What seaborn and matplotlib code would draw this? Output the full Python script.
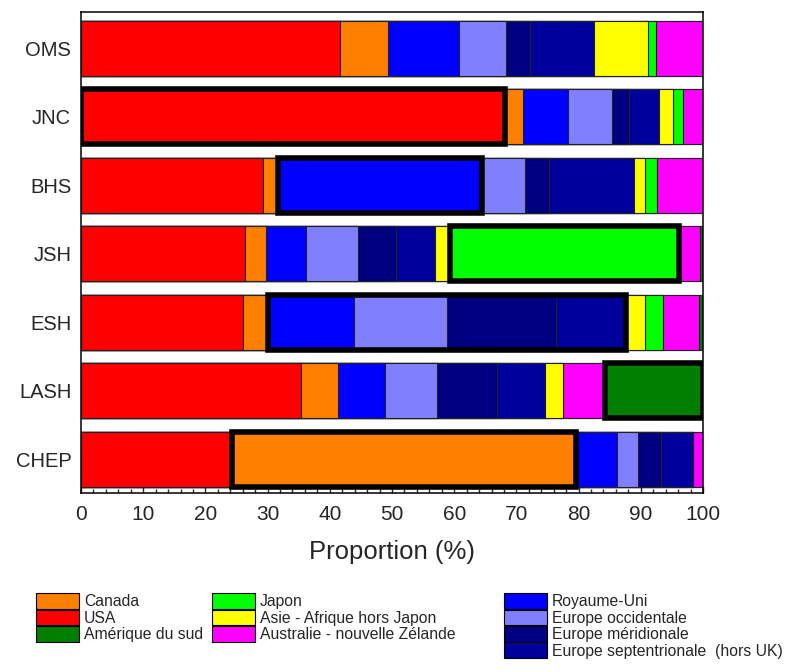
import numpy as np
import pandas as pd
import matplotlib
matplotlib.use('Agg')
import matplotlib.pyplot as plt
from matplotlib.patches import Patch, Rectangle
from matplotlib.ticker import MultipleLocator
import seaborn as sns

# categories (bars, top to bottom)
categories = ['OMS', 'JNC', 'BHS', 'JSH', 'ESH', 'LASH', 'CHEP']

# share of each region, per category (%)
usa       = [41.7, 68.1, 29.3, 26.3, 26.0, 35.3, 24.2]
canada    = [7.7, 3.0, 2.4, 3.4, 4.0, 6.0, 55.4]
uk        = [11.4, 7.2, 32.7, 6.4, 13.9, 7.6, 6.6]
eur_occ   = [7.6, 7.1, 7.0, 8.4, 14.9, 8.3, 3.4]
eur_mer   = [3.8, 2.7, 3.9, 6.2, 17.6, 9.7, 3.6]
eur_sept  = [10.2, 4.9, 13.6, 6.2, 11.2, 7.7, 5.2]
asie      = [8.8, 2.1, 1.7, 2.5, 3.0, 2.9, 0.0]
japon     = [1.3, 1.7, 2.0, 36.8, 3.0, 0.0, 0.0]
australie = [7.5, 3.2, 7.4, 3.3, 5.7, 6.8, 1.6]
am_sud    = [0.0, 0.0, 0.0, 0.5, 0.7, 15.7, 0.0]

regions = ['USA', 'Canada', 'Royaume-Uni', 'Europe occidentale', 'Europe méridionale',
           'Europe septentrionale  (hors UK)', 'Asie - Afrique hors Japon', 'Japon',
           'Australie - nouvelle Zélande', 'Amérique du sud']
series = [usa, canada, uk, eur_occ, eur_mer, eur_sept, asie, japon, australie, am_sud]
colors = ['#ff0000', '#ff8000', '#0000ff', '#8080ff', '#000080',
          '#00009c', '#ffff00', '#00ff00', '#ff00ff', '#008000']

# highlighted blocks: (category, first region, last region)
highlights = [('JNC', 'USA', 'USA'),
              ('BHS', 'Royaume-Uni', 'Royaume-Uni'),
              ('JSH', 'Japon', 'Japon'),
              ('ESH', 'Royaume-Uni', 'Europe septentrionale  (hors UK)'),
              ('LASH', 'Amérique du sud', 'Amérique du sud'),
              ('CHEP', 'Canada', 'Canada')]

# legend columns
legend_cols = [['Canada', 'USA', 'Amérique du sud'],
               ['Japon', 'Asie - Afrique hors Japon', 'Australie - nouvelle Zélande'],
               ['Royaume-Uni', 'Europe occidentale', 'Europe méridionale',
                'Europe septentrionale  (hors UK)']]

df = pd.DataFrame(dict(zip(regions, series)), index=categories)
cum = df.cumsum(axis=1)

sns.set_style('ticks')
plt.rcParams['font.family'] = ['Liberation Sans', 'DejaVu Sans']

fig = plt.figure(figsize=(7.9, 6.71), dpi=100)
ax = fig.add_axes([0.1025, 0.2653, 0.7874, 0.7168])

# stacked bars: draw cumulative totals from the last region backwards
for reg, col in reversed(list(zip(regions, colors))):
    sns.barplot(x=cum[reg].values, y=categories, order=categories, orient='h',
                color=col, saturation=1, width=0.8, edgecolor='#222222',
                linewidth=0.8, ax=ax)

# thick frames around highlighted blocks
for cat, first, last in highlights:
    i = categories.index(cat)
    start = cum.loc[cat, first] - df.loc[cat, first]
    end = cum.loc[cat, last]
    ax.add_patch(Rectangle((start, i - 0.4), end - start, 0.8, fill=False,
                           edgecolor='black', linewidth=4, joinstyle='miter',
                           zorder=5))

ax.set_xlim(0, 100)
ax.set_ylim(6.49, -0.53)
ax.xaxis.set_major_locator(MultipleLocator(10))
ax.xaxis.set_minor_locator(MultipleLocator(2))
ax.tick_params(axis='x', which='major', direction='in', length=5, width=1,
               labelsize=15, pad=9)
ax.tick_params(axis='x', which='minor', direction='in', length=3, width=1)
ax.tick_params(axis='y', direction='in', length=2.5, width=1, labelsize=14.5, pad=7)
for s in ax.spines.values():
    s.set_visible(True)
    s.set_linewidth(1.1)
    s.set_color('black')
ax.set_xlabel('Proportion (%)', fontsize=18.5, labelpad=11)
ax.set_ylabel('')

# legend in three columns
lut = dict(zip(regions, colors))
xs = [0.046, 0.268, 0.638]
for x0, names in zip(xs, legend_cols):
    handles = [Patch(facecolor=lut[n], edgecolor='black', linewidth=0.8) for n in names]
    fig.legend(handles, names, loc='upper left', bbox_to_anchor=(x0, 0.116),
               frameon=False, fontsize=11.3, handlelength=2.75, handleheight=1.15,
               handletextpad=0.3, labelspacing=0.02, borderpad=0, borderaxespad=0)

plt.savefig('out.png', dpi=100)
